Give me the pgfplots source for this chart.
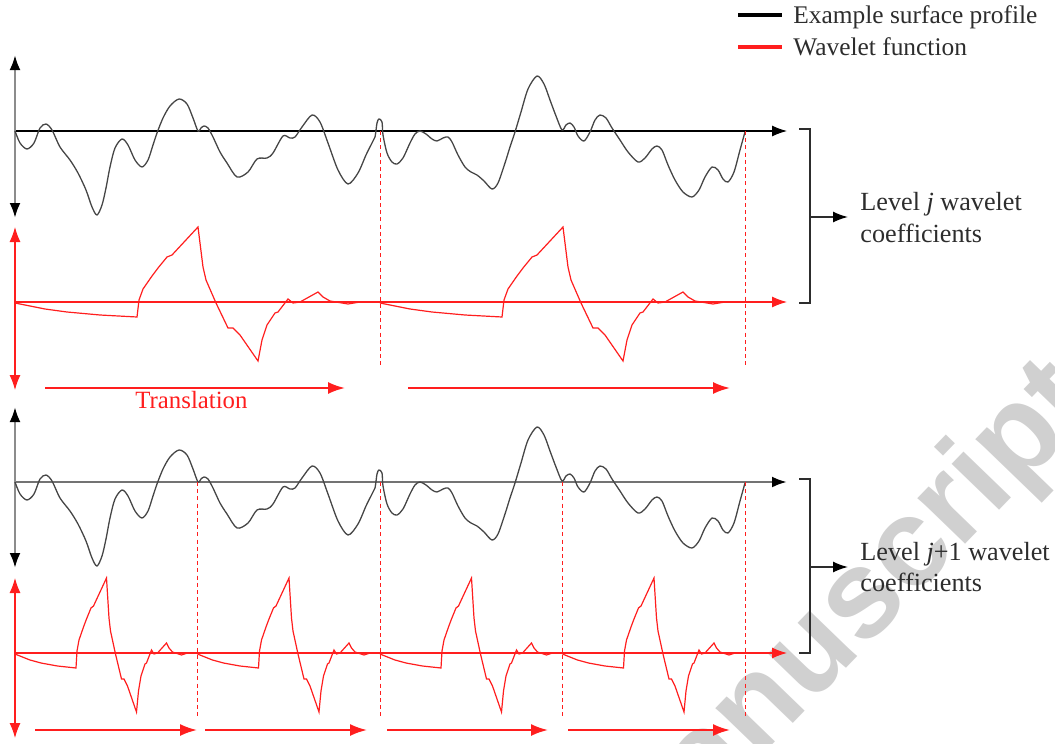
\documentclass[border=0pt]{standalone}
\usepackage{pgfplots}
\pgfplotsset{compat=1.18}
\usepackage{pgfplotstable}
\usepackage{fontspec}
\setmainfont{Liberation Serif}
\newfontfamily\wmfont{Liberation Sans}
\usetikzlibrary{arrows.meta}

\definecolor{wmgray}{RGB}{208,208,208}
\definecolor{prof}{RGB}{70,70,70}
\definecolor{wred}{RGB}{255,30,30}
\definecolor{txt}{RGB}{45,45,45}

% surface profile, top panel (pixel coordinates, y downwards)
\pgfplotstableread{
x y
15 131
20 143
27 149
34 143
40 128
46 124
52 130
60 147
70 160
78 173
86 190
92 207
97 215
102 205
106 188
110 167
115 148
122 139
128 145
135 160
142 167
148 160
153 145
157 133
163 118
170 106
179 99
187 104
193 118
198 131
201 128
204 126
208 128
213 137
220 152
227 163
237 177
248 172
257 159
267 158
273 153
283 136
290 138
295 137
302 127
312 115
320 122
328 143
338 170
348 184
358 173
366 155
372 143
375 137
377 123
379 119
382 122
383 135
387 153
392 162
397 164
403 158
410 143
415 134
420 131
426 134
432 139
437 141
443 138
448 137
452 142
458 155
465 167
471 172
477 175
484 181
492 189
498 183
505 163
510 147
515 132
521 112
528 89
537 76
544 84
550 100
556 116
562 130
566 125
570 123
574 127
578 136
584 141
590 132
595 120
600 115
606 118
612 128
620 140
628 152
638 162
645 158
652 149
657 146
662 150
668 165
675 180
683 192
692 197
699 190
705 177
712 167
718 170
723 179
728 182
734 172
740 150
745 132
}\profile

% one period of the wavelet (offsets from its start, y downwards)
\pgfplotstableread{
x y
0 1
30 7
52 10
85 13
122 15
124 -2
128 -13
137 -26
143 -34
152 -45
157 -47
183 -75
188 -35
191 -22
201 1
213 26
218 26
225 33
243 59
247 38
252 23
260 11
263 10
273 -3
278 1
285 0
303 -10
308 -5
315 -1
333 2
345 0
365 0
}\wavelet

\tikzset{
  ah/.tip={Latex[length=7.5pt,width=5.5pt]},
  ahk/.tip={Latex[length=7.5pt,width=5.5pt,color=black]},
  th/.tip={Latex[length=8.5pt,width=6pt]},
}

\begin{document}
\begin{tikzpicture}
\useasboundingbox (0,0) rectangle (527.5pt,372pt);
\clip (0,0) rectangle (527.5pt,372pt);
\begin{axis}[at={(0,0)}, anchor=south west, scale only axis,
  width=527.5pt, height=372pt, xmin=0, xmax=1055, ymin=0, ymax=744,
  y dir=reverse, hide axis, clip=false]

% watermark
\node[wmgray, font=\wmfont\bfseries\fontsize{62.5}{62.5}\selectfont, rotate=46,
  anchor=base west, inner sep=0pt] at (axis cs:757,761) {\llap{Accepted Ma}nuscript};

% ---------- level j ----------
\draw[black, line width=0.55pt, -{ah}] (axis cs:15,131) -- (axis cs:787,131);
\draw[black!45, line width=1.3pt, {ahk}-{ahk}] (axis cs:15,55) -- (axis cs:15,218);
\addplot[prof, line width=0.65pt, smooth, tension=0.5] table[x=x,y=y]{\profile};

\draw[wred, line width=0.55pt, -{ah}] (axis cs:15,302) -- (axis cs:787,302);
\draw[wred, line width=0.55pt, {ah}-{ah}] (axis cs:15,227) -- (axis cs:15,390);
\addplot[wred, line width=0.6pt] table[x expr=\thisrow{x}+15, y expr=\thisrow{y}+302]{\wavelet};
\addplot[wred, line width=0.6pt] table[x expr=\thisrow{x}+380, y expr=\thisrow{y}+302]{\wavelet};

\draw[wred, line width=0.5pt, dash pattern=on 2pt off 1.6pt] (axis cs:380,131) -- (axis cs:380,365);
\draw[wred, line width=0.5pt, dash pattern=on 2pt off 1.6pt] (axis cs:745,131) -- (axis cs:745,365);

\draw[wred, line width=1pt, -{th}] (axis cs:45,388) -- (axis cs:345,388);
\draw[wred, line width=1pt, -{th}] (axis cs:408,388) -- (axis cs:730,388);
\node[wred, anchor=base west, inner sep=0pt, font=\fontsize{12.4}{14}\selectfont] at (axis cs:135,408) {Translation};

% ---------- level j+1 ----------
\draw[black!55, line width=1.3pt, -{ahk}] (axis cs:15,482) -- (axis cs:787,482);
\draw[black!45, line width=1.3pt, {ahk}-{ahk}] (axis cs:15,407) -- (axis cs:15,568);
\addplot[prof, line width=0.65pt, smooth, tension=0.5] table[x=x, y expr=\thisrow{y}+351]{\profile};

\draw[wred, line width=0.55pt, -{ah}] (axis cs:15,653) -- (axis cs:787,653);
\draw[wred, line width=0.55pt, {ah}-{ah}] (axis cs:15,578) -- (axis cs:15,738);
\addplot[wred, line width=0.6pt] table[x expr=\thisrow{x}/2+15, y expr=\thisrow{y}+653]{\wavelet};
\addplot[wred, line width=0.6pt] table[x expr=\thisrow{x}/2+197.5, y expr=\thisrow{y}+653]{\wavelet};
\addplot[wred, line width=0.6pt] table[x expr=\thisrow{x}/2+380, y expr=\thisrow{y}+653]{\wavelet};
\addplot[wred, line width=0.6pt] table[x expr=\thisrow{x}/2+562.5, y expr=\thisrow{y}+653]{\wavelet};

\draw[wred, line width=0.5pt, dash pattern=on 2pt off 1.6pt] (axis cs:197.5,482) -- (axis cs:197.5,716);
\draw[wred, line width=0.5pt, dash pattern=on 2pt off 1.6pt] (axis cs:380,482) -- (axis cs:380,716);
\draw[wred, line width=0.5pt, dash pattern=on 2pt off 1.6pt] (axis cs:562.5,482) -- (axis cs:562.5,716);
\draw[wred, line width=0.5pt, dash pattern=on 2pt off 1.6pt] (axis cs:745,482) -- (axis cs:745,716);

\draw[wred, line width=1pt, -{th}] (axis cs:35,730) -- (axis cs:197,730);
\draw[wred, line width=1pt, -{th}] (axis cs:205,730) -- (axis cs:367,730);
\draw[wred, line width=1pt, -{th}] (axis cs:387,730) -- (axis cs:548,730);
\draw[wred, line width=1pt, -{th}] (axis cs:568,730) -- (axis cs:730,730);

% ---------- brackets and labels ----------
\draw[txt, line width=0.75pt] (axis cs:799,129) -- (axis cs:810,129) -- (axis cs:810,303) -- (axis cs:799,303);
\draw[txt, line width=0.75pt, -{ahk}] (axis cs:810,217) -- (axis cs:848,217);
\draw[txt, line width=0.75pt] (axis cs:799,479) -- (axis cs:810,479) -- (axis cs:810,653) -- (axis cs:799,653);
\draw[txt, line width=0.75pt, -{ahk}] (axis cs:810,567) -- (axis cs:848,567);

\node[txt, anchor=base west, inner sep=0pt, font=\fontsize{13.1}{15}\selectfont] at (axis cs:860,210) {Level \textit{j} wavelet};
\node[txt, anchor=base west, inner sep=0pt, font=\fontsize{13.1}{15}\selectfont] at (axis cs:860,242) {coefficients};
\node[txt, anchor=base west, inner sep=0pt, font=\fontsize{13.1}{15}\selectfont] at (axis cs:860,560) {Level \textit{j}+1 wavelet};
\node[txt, anchor=base west, inner sep=0pt, font=\fontsize{13.1}{15}\selectfont] at (axis cs:860,591) {coefficients};

% ---------- legend ----------
\draw[black, line width=2pt] (axis cs:738,15) -- (axis cs:782,15);
\draw[wred, line width=2pt] (axis cs:738,47) -- (axis cs:782,47);
\node[txt, anchor=base west, inner sep=0pt, font=\fontsize{12.7}{15}\selectfont] at (axis cs:793,24) {Example surface profile};
\node[txt, anchor=base west, inner sep=0pt, font=\fontsize{12.7}{15}\selectfont] at (axis cs:793,55) {Wavelet function};

\end{axis}
\end{tikzpicture}
\end{document}
